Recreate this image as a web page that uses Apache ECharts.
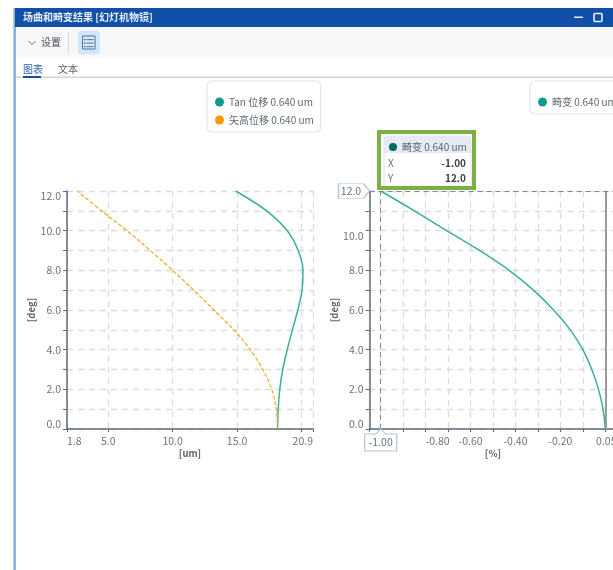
<!DOCTYPE html>
<html><head><meta charset="utf-8">
<style>html,body{margin:0;padding:0;background:#fff;overflow:hidden}#c{width:613px;height:570px}</style>
<script src="https://cdn.jsdelivr.net/npm/echarts@6/dist/echarts.min.js"></script>
</head><body><div id="c"></div>
<script>
const windowTitle = '场曲和畸变结果 [幻灯机物镜]';
const settingsLabel = '设置';
const tabLabels = ['图表', '文本'];
const fieldDeg = [0,1,2,3,4,5,6,7,8,9,10,11,12];
const tanUm = [18.15,18.2,18.32,18.55,18.9,19.3,19.72,20.05,20.12,19.75,18.9,17.3,14.9];
const sagUm = [18.15,18.05,17.7,17.0,16.03,14.75,13.2,11.63,10.0,8.26,6.45,4.48,2.6];
const distortionPct = [0,-0.01,-0.03,-0.06,-0.10,-0.156,-0.23,-0.32,-0.428,-0.56,-0.706,-0.85,-1.0];
const tanName = 'Tan 位移 0.640 um';
const sagName = '矢高位移 0.640 um';
const distName = '畸变 0.640 um';
const yTicks = [0,1,2,3,4,5,6,7,8,9,10,11,12];
const yLabels = [0,2,4,6,8,10,12];
const yLabelsRight = [0,2,4,6,8,10];
const x1Ticks = [1.8,5,10,15,20,20.9];
const x1Labels = [1.8,5,10,15,20.9];
const x2Ticks = [-1.05,-1,-0.9,-0.8,-0.7,-0.6,-0.5,-0.4,-0.3,-0.2,-0.1,0,0.05];
const x2Labels = [-0.8,-0.6,-0.4,-0.2,0.05];
const cursor = {x:-1.00, y:12.0};

const FF = '"Noto Sans CJK SC","Noto Sans",sans-serif';
const TEAL = '#3aaf9f', ORANGE = '#f5a623', AXIS = '#5f6a76', LBL = '#6a737d', GRID = '#dcdcdc';
const pair = (xs, ys) => xs.map((x,i)=>[x,ys[i]]);

function xAxis(grid,min,max,ticks,labels,name,fmt){
  return {type:'value',gridIndex:grid,min,max,name,nameLocation:'middle',nameGap:20,
    nameTextStyle:{fontFamily:FF,fontSize:9.5,fontWeight:'bold',color:'#5a6570'},
    axisLine:{onZero:false,lineStyle:{color:AXIS,width:1.5}},
    axisTick:{show:true,length:3,customValues:ticks,lineStyle:{color:AXIS,width:1}},
    axisLabel:{customValues:labels,fontFamily:FF,fontSize:10.5,color:LBL,margin:7,formatter:fmt,hideOverlap:false,
      alignMinLabel:'left',alignMaxLabel:'right'},
    splitLine:{show:true,lineStyle:{color:GRID,type:[6,5],width:1.3}}};
}
function yAxis(grid,labels){
  return {type:'value',gridIndex:grid,min:0,max:12,name:'[deg]',nameLocation:'middle',nameGap:grid?30:31,
    nameTextStyle:{fontFamily:FF,fontSize:9.5,fontWeight:'bold',color:'#5a6570'},
    axisLine:{onZero:false,lineStyle:{color:AXIS,width:1.5}},
    axisTick:{show:true,length:4,customValues:yTicks,lineStyle:{color:AXIS,width:1}},
    axisLabel:{customValues:labels,fontFamily:FF,fontSize:10.5,color:LBL,margin:6,formatter:v=>v.toFixed(1),
      verticalAlignMinLabel:'bottom',verticalAlignMaxLabel:'top'},
    splitLine:{show:true,lineStyle:{color:GRID,type:[6,5],width:1.3}}};
}
const tagX = 'path://M0 5 H11 L16 0 L21 5 H32 V22 H0 Z';
const tagY = 'path://M0 0 H25 L31 7.5 L25 15 H0 Z';
const tagLabel = {show:true,fontFamily:FF,fontSize:10.5,color:LBL};

const g = [];
const rect=(x,y,w,h,fill,extra={})=>g.push({type:'rect',shape:{x,y,width:w,height:h,...(extra.r?{r:extra.r}:{})},style:{fill,stroke:extra.stroke||null,lineWidth:extra.lw||0},z:extra.z||100,silent:true});
const text=(x,y,t,fill,size,extra={})=>g.push({type:'text',x,y,style:{text:t,fill,font:`${extra.weight||'normal'} ${size}px ${FF}`,textAlign:extra.align||'left',textVerticalAlign:'middle'},z:extra.z||102,silent:true});

// window chrome
rect(13,8,1,562,'#c8c8c8');
rect(14,8,2,562,'#82b1ec');
rect(15,8,598,19,'#1050a8');
rect(16,27,597,31,'#f7f7f7');
text(23,17.5,windowTitle,'#e8eef8',10,{weight:'bold'});
rect(574,16.5,9,1.5,'#e8eef8');
rect(594,13.5,8,8,'#1050a8',{stroke:'#e8eef8',lw:1.6,r:1});
g.push({type:'polyline',shape:{points:[[28.5,41],[32,44.5],[35.5,41]]},style:{stroke:'#6a737d',lineWidth:1,fill:null},z:101,silent:true});
text(41,42.5,settingsLabel,'#444c55',10);
rect(68,32,1,21,'#d8d8d8');
rect(78,31,22,23,'#cde7fb',{r:3});
rect(82.5,36,12.5,13,'#dceafa',{stroke:'#5a6e86',lw:1});
[39,42.5,46].forEach(y=>{rect(84,y,1.6,1.2,'#2f6fc0',{z:102});rect(86.5,y,7,1.2,'#5a84b8',{z:102});});
text(23,69,tabLabels[0],'#3566ad',10);
text(58,69,tabLabels[1],'#555c64',10);
rect(16,76.5,597,1.5,'#d4d4d4');
rect(23,76,18,2,'#1050a8',{z:101});

// cursor tooltip
rect(384,136,87,51,'#ffffff',{stroke:'#dde3ea',lw:1,r:3});
rect(384,136,87,17,'#e6ebf3',{r:[3,3,0,0],z:101});
g.push({type:'circle',shape:{cx:393,cy:147,r:4},style:{fill:'#00695c'},z:102,silent:true});
text(402,147,distName,'#5a6570',10,{z:103});
text(388,163,'X','#6a737d',10);
text(466,163,cursor.x.toFixed(2),'#3a424a',10,{align:'right',weight:'bold'});
text(388,178.5,'Y','#6a737d',10);
text(466,178.5,cursor.y.toFixed(1),'#3a424a',10,{align:'right',weight:'bold'});
rect(379,132,95,56,'transparent',{stroke:'#7cb044',lw:4,z:104});

const legendBase = {orient:'vertical',icon:'circle',itemWidth:9,itemHeight:9,itemGap:8,backgroundColor:'#fff',
  borderColor:'#dfe5ec',borderWidth:1.2,borderRadius:5,selectedMode:false,
  textStyle:{fontFamily:FF,fontSize:10,color:'#5f6973'}};

const option = {
  animation:false,
  backgroundColor:'#fff',
  textStyle:{fontFamily:FF},
  grid:[
    {left:67,top:191,width:246,height:238,containLabel:false,outerBoundsMode:'none'},
    {left:369.5,top:191,width:247,height:238,containLabel:false,outerBoundsMode:'none'}
  ],
  xAxis:[
    xAxis(0,1.8,20.9,x1Ticks,x1Labels,'[um]',v=>v.toFixed(1)),
    xAxis(1,-1.05,0.05,x2Ticks,x2Labels,'[%]',v=>v.toFixed(2))
  ],
  yAxis:[yAxis(0,yLabels),yAxis(1,yLabelsRight)],
  legend:[
    {...legendBase,data:[tanName,sagName],left:207,top:81,padding:[16,7,7,8]},
    {...legendBase,data:[distName],left:530,top:81,padding:[16,40,7,8]}
  ],
  series:[
    {name:tanName,type:'line',xAxisIndex:0,yAxisIndex:0,data:pair(tanUm,fieldDeg),smooth:0.35,showSymbol:false,
      itemStyle:{color:'#0f9c8a'},lineStyle:{color:TEAL,width:1.5}},
    {name:sagName,type:'line',xAxisIndex:0,yAxisIndex:0,data:pair(sagUm,fieldDeg),smooth:0.35,showSymbol:false,
      itemStyle:{color:'#ff9800'},lineStyle:{color:ORANGE,width:1.2,type:[4,2]}},
    {name:distName,type:'line',xAxisIndex:1,yAxisIndex:1,data:pair(distortionPct,fieldDeg),smooth:0.35,showSymbol:false,
      itemStyle:{color:'#0f9c8a'},lineStyle:{color:TEAL,width:1.5},
      markLine:{silent:true,symbol:'none',animation:false,label:{show:false},data:[
        {xAxis:0,lineStyle:{color:'#9a9a9a',width:2,type:'solid'}},
        {xAxis:cursor.x,lineStyle:{color:'#7f8790',width:1,type:[5,4]}},
        {yAxis:cursor.y,lineStyle:{color:'#7f8790',width:1,type:[5,4]}}
      ]},
      markPoint:{silent:true,animation:false,data:[
        {coord:[cursor.x,0],symbol:tagX,symbolSize:[32,22],symbolOffset:[0,11],
          itemStyle:{color:'#fff',borderColor:'#b3c4d6',borderWidth:1},
          label:{...tagLabel,position:'inside',offset:[0,2.5],formatter:cursor.x.toFixed(2)}},
        {coord:[-1.05,cursor.y],symbol:tagY,symbolSize:[31,15],symbolOffset:[-15.5,0],
          itemStyle:{color:'#fff',borderColor:'#b3c4d6',borderWidth:1},
          label:{...tagLabel,position:'inside',offset:[-3,0],formatter:cursor.y.toFixed(1)}}
      ]}}
  ],
  graphic:{elements:g}
};
echarts.init(document.getElementById('c'),null,{renderer:'canvas'}).setOption(option);
</script></body></html>
